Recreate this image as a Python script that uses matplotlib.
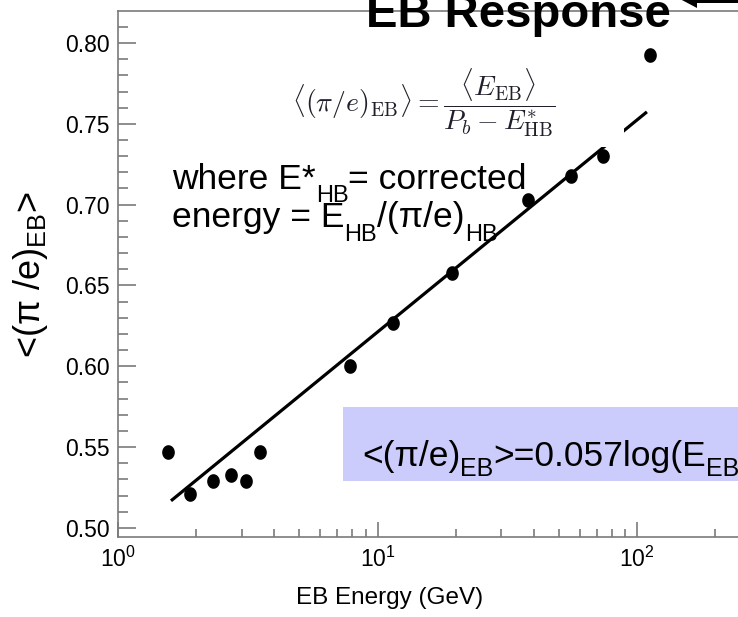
import numpy as np
import matplotlib
matplotlib.use("Agg")
import matplotlib.pyplot as plt
from matplotlib.path import Path
from matplotlib.patches import Rectangle, Polygon
from matplotlib.ticker import LogLocator, MultipleLocator, FormatStrFormatter, NullFormatter

plt.rcParams['font.family'] = ['Liberation Sans', 'DejaVu Sans']
plt.rcParams['mathtext.fontset'] = 'custom'
plt.rcParams['mathtext.rm'] = 'Liberation Sans'
plt.rcParams['mathtext.it'] = 'Liberation Sans:italic'
plt.rcParams['mathtext.bf'] = 'Liberation Sans:bold'

# EB energy (GeV) and mean pi/e response in the EB
eb_energy = [1.56, 1.89, 2.32, 2.72, 3.11, 3.52, 7.8, 11.5, 19.3, 37.8, 55.7, 74.0, 112.0]
pi_over_e = [0.547, 0.521, 0.529, 0.533, 0.529, 0.547, 0.600, 0.627, 0.658, 0.703, 0.718, 0.730, 0.7925]

# logarithmic fit  <pi/e> = slope * ln(E) + offset
fit_slope = 0.057
fit_offset = 0.49
fit_range = [1.6, 109.0]

W, H = 738, 617
fig = plt.figure(figsize=(W / 100, H / 100), dpi=100)
renderer = fig.canvas.get_renderer()


def fx(x):
    return x / W


def fy(y):
    return 1 - y / H


def text_width(s, size):
    """Advance width of a string in pixels (spaces included)."""
    a = fig.text(0, 0, '|' + s + '|', fontsize=size)
    b = fig.text(0, 0, '||', fontsize=size)
    w = a.get_window_extent(renderer).width - b.get_window_extent(renderer).width
    a.remove()
    b.remove()
    return w


def runs(x0, y0, items, size, sub_size, drop):
    """Write a line made of normal and subscript pieces, left to right."""
    x = x0
    for s, sub in items:
        fs = sub_size if sub else size
        fig.text(fx(x), fy(y0 + (drop if sub else 0)), s, fontsize=fs,
                 color='black', ha='left', va='baseline')
        x += text_width(s, fs)


# axes box in pixels: left 118, right beyond the page, top 11, bottom 537
ax = fig.add_axes([fx(118), fy(537), (767 - 118) / W, (537 - 11) / H])
ax.set_xscale('log')
ax.set_xlim(1, 10 ** 2.5)
ax.set_ylim(0.4944, 0.8198)

gray = '#7a7a7a'
for s in ax.spines.values():
    s.set_color(gray)
    s.set_linewidth(1.2)

ax.xaxis.set_major_locator(LogLocator(base=10, numticks=10))
ax.xaxis.set_minor_locator(LogLocator(base=10, subs=np.arange(2, 10), numticks=10))
ax.xaxis.set_minor_formatter(NullFormatter())
ax.yaxis.set_major_locator(MultipleLocator(0.05))
ax.yaxis.set_minor_locator(MultipleLocator(0.01))
ax.yaxis.set_major_formatter(FormatStrFormatter('%.2f'))

ax.tick_params(axis='both', which='both', direction='in', color=gray, width=1.2,
               top=False, right=False, labelsize=16.5)
ax.tick_params(axis='x', which='major', length=11, pad=7)
ax.tick_params(axis='x', which='minor', length=5.5)
ax.tick_params(axis='y', which='major', length=13, pad=6)
ax.tick_params(axis='y', which='minor', length=7)

ax.set_xlabel('EB Energy (GeV)', fontsize=17.5)
ax.xaxis.set_label_coords((390 - 118) / 649, (537 - 598) / 526)
ax.xaxis.label.set_va('center')
ax.set_ylabel(r'<(π /e)$_{\mathregular{EB}}$>', fontsize=26)
ax.yaxis.set_label_coords((31 - 118) / 649, (537 - 275) / 526)
ax.yaxis.label.set_va('center')

# data points, drawn as slightly tall ellipses
t = np.linspace(0, 2 * np.pi, 64)
ell = Path(np.column_stack([0.85 * np.cos(t), np.sin(t)]), closed=True)
ax.plot(eb_energy, pi_over_e, linestyle='none', marker=ell, markersize=9.5,
        color='black', zorder=3)

# fit line
e_fit = np.geomspace(fit_range[0], fit_range[1], 100)
ax.plot(e_fit, fit_slope * np.log(e_fit) + fit_offset, color='black', lw=2.3,
        solid_capstyle='butt', zorder=2)

# white panel behind the definition formula
fig.patches.append(Rectangle((fx(255), fy(147)), fx(624) - fx(255), fy(55) - fy(147),
                             transform=fig.transFigure, facecolor='white',
                             edgecolor='none', zorder=1))
fig.text(fx(424), fy(103),
         r'$\langle(\pi/e)_{\rm EB}\rangle = \dfrac{\langle E_{\rm EB}\rangle}{P_b - E^{*}_{\rm HB}}$',
         math_fontfamily='cm', fontsize=20, color='#20202c', ha='center', va='center')

# definition of the corrected HB energy
runs(172, 189, [('where E*', False), ('HB', True), ('= corrected', False)],
     size=25.5, sub_size=17, drop=13)
runs(172, 227, [('energy = E', False), ('HB', True), ('/(π/e)', False), ('HB', True)],
     size=25.5, sub_size=17, drop=14)

# fit result panel
fig.patches.append(Rectangle((fx(343), fy(481)), fx(770) - fx(343), fy(407) - fy(481),
                             transform=fig.transFigure, facecolor='#ccccfc',
                             edgecolor='none', zorder=1))
runs(362, 466, [('<(π/e)', False), ('EB', True),
                ('>=' + f'{fit_slope:.3f}' + 'log(E', False), ('EB', True),
                (')+' + f'{fit_offset:.2f}', False)],
     size=25.5, sub_size=18, drop=10)

fig.text(fx(366), fy(27), 'EB Response', fontsize=34, fontweight='bold',
         color='black', ha='left', va='baseline')

# pointer arrow at the top right
arrow_px = [(680, -1), (697, -10), (697, -4), (750, -4), (750, 3), (697, 3), (697, 8)]
fig.patches.append(Polygon([(fx(x), fy(y)) for x, y in arrow_px], closed=True,
                           transform=fig.transFigure, facecolor='black',
                           edgecolor='none', zorder=4))

fig.savefig('out.png', dpi=100)
